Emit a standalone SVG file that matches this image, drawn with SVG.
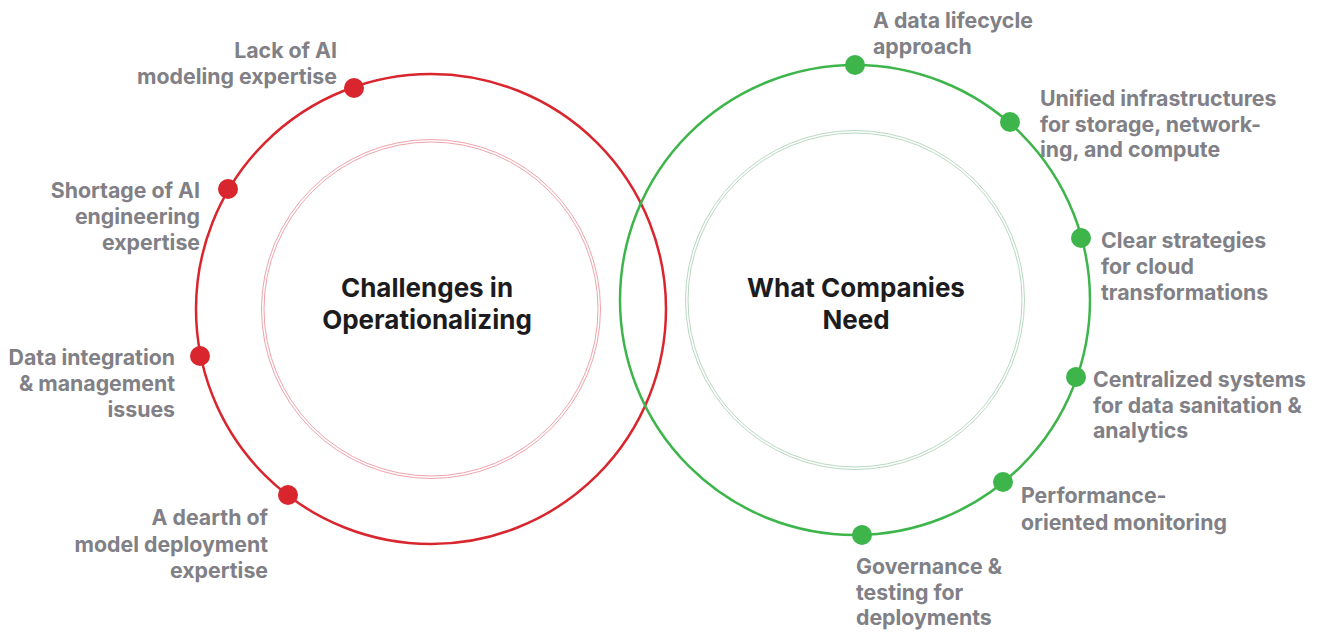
<svg xmlns="http://www.w3.org/2000/svg" width="1322" height="635" viewBox="0 0 1322 635">
  <style>
    .ring { fill: none; stroke-width: 2.5; }
    .red { stroke: #d9262e; }
    .green { stroke: #3db54b; }
    .inner-red { fill: none; stroke: #efa3ab; stroke-width: 1; }
    .inner-green { fill: none; stroke: #b9d9c0; stroke-width: 1; }
    .dot-red { fill: #d9262e; }
    .dot-green { fill: #3db54b; }
    .label { font-family: Inter, "Liberation Sans", sans-serif; font-weight: 700; font-size: 21.3px; fill: #808086; }
    .end { text-anchor: end; }
    .title { font-family: Inter, "Liberation Sans", sans-serif; font-weight: 700; font-size: 26px; fill: #1c1c1e; text-anchor: middle; }
  </style>
  <rect width="1322" height="635" fill="#ffffff"/>

  <!-- outer rings -->
  <g id="connectors">
    <circle class="ring red" cx="431" cy="309" r="235"/>
    <circle class="ring green" cx="855" cy="300" r="235"/>
  </g>

  <!-- left cluster: challenges -->
  <g id="challenges-core">
    <circle class="inner-red" cx="431" cy="309" r="167"/>
    <circle class="inner-red" cx="431" cy="309" r="169.5"/>
    <text class="title" x="427" y="297">Challenges in</text>
    <text class="title" x="427" y="329">Operationalizing</text>
  </g>

  <g id="c1">
    <circle class="dot-red" cx="354" cy="88" r="10"/>
    <text class="label end" x="337" y="58">Lack of AI</text>
    <text class="label end" x="337" y="84">modeling expertise</text>
  </g>
  <g id="c2">
    <circle class="dot-red" cx="228" cy="189" r="10"/>
    <text class="label end" x="200" y="198">Shortage of AI</text>
    <text class="label end" x="200" y="224">engineering</text>
    <text class="label end" x="200" y="250">expertise</text>
  </g>
  <g id="c3">
    <circle class="dot-red" cx="200" cy="356" r="10"/>
    <text class="label end" x="175" y="365">Data integration</text>
    <text class="label end" x="175" y="391">&amp; management</text>
    <text class="label end" x="175" y="417">issues</text>
  </g>
  <g id="c4">
    <circle class="dot-red" cx="288" cy="495" r="10"/>
    <text class="label end" x="268" y="525">A dearth of</text>
    <text class="label end" x="268" y="552">model deployment</text>
    <text class="label end" x="268" y="578">expertise</text>
  </g>

  <!-- right cluster: needs -->
  <g id="needs-core">
    <circle class="inner-green" cx="855" cy="300" r="167"/>
    <circle class="inner-green" cx="855" cy="300" r="169.5"/>
    <text class="title" x="856" y="297">What Companies</text>
    <text class="title" x="856" y="329">Need</text>
  </g>

  <g id="n1">
    <circle class="dot-green" cx="855" cy="65" r="10"/>
    <text class="label" x="873" y="28">A data lifecycle</text>
    <text class="label" x="873" y="54">approach</text>
  </g>
  <g id="n2">
    <circle class="dot-green" cx="1010" cy="122" r="10"/>
    <text class="label" x="1040" y="106">Unified infrastructures</text>
    <text class="label" x="1040" y="132">for storage, network-</text>
    <text class="label" x="1040" y="157">ing, and compute</text>
  </g>
  <g id="n3">
    <circle class="dot-green" cx="1081" cy="238" r="10"/>
    <text class="label" x="1101" y="248">Clear strategies</text>
    <text class="label" x="1101" y="274">for cloud</text>
    <text class="label" x="1101" y="300">transformations</text>
  </g>
  <g id="n4">
    <circle class="dot-green" cx="1076" cy="377" r="10"/>
    <text class="label" x="1093" y="387">Centralized systems</text>
    <text class="label" x="1093" y="413">for data sanitation &amp;</text>
    <text class="label" x="1093" y="438">analytics</text>
  </g>
  <g id="n5">
    <circle class="dot-green" cx="1003" cy="482" r="10"/>
    <text class="label" x="1021" y="503">Performance-</text>
    <text class="label" x="1021" y="530">oriented monitoring</text>
  </g>
  <g id="n6">
    <circle class="dot-green" cx="862" cy="535" r="10"/>
    <text class="label" x="856" y="574">Governance &amp;</text>
    <text class="label" x="856" y="600">testing for</text>
    <text class="label" x="856" y="625">deployments</text>
  </g>
</svg>
